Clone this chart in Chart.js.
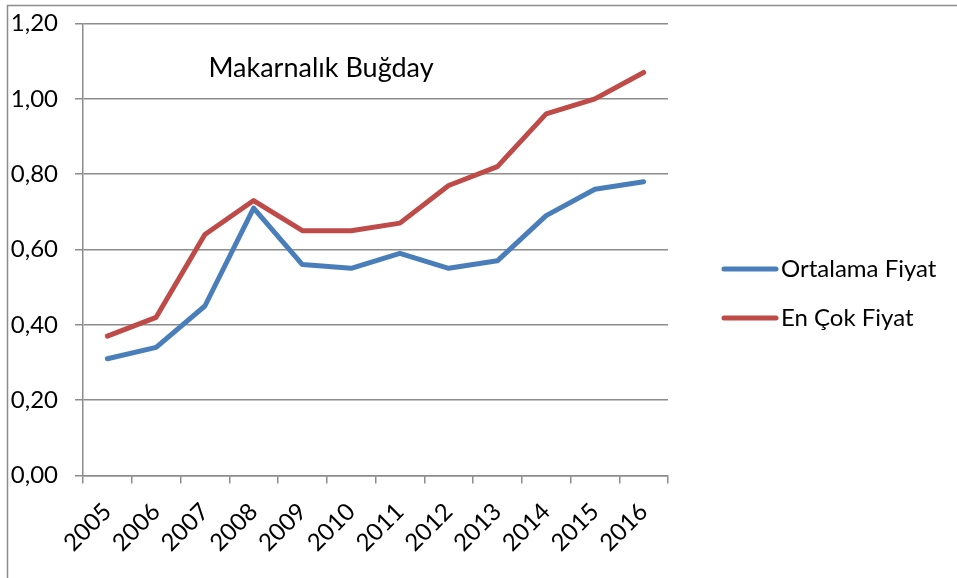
<!DOCTYPE html>
<html>
<head>
<meta charset="utf-8">
<script src="https://cdn.jsdelivr.net/npm/chart.js@4/dist/chart.umd.min.js"></script>
<style>
  html, body { margin: 0; padding: 0; background: #fff; }
  #wrap { width: 957px; height: 578px; position: relative; }
</style>
</head>
<body>
<div id="wrap"><canvas id="c" width="957" height="578"></canvas></div>
<script>
// Yıllar ve fiyat serileri
const years = ['2005','2006','2007','2008','2009','2010','2011','2012','2013','2014','2015','2016'];
const ortalamaFiyat = [0.31, 0.34, 0.45, 0.71, 0.56, 0.55, 0.59, 0.55, 0.57, 0.69, 0.76, 0.78];
const enCokFiyat   = [0.37, 0.42, 0.64, 0.73, 0.65, 0.65, 0.67, 0.77, 0.82, 0.96, 1.00, 1.07];
const seriesNames  = ['Ortalama Fiyat', 'En Çok Fiyat'];
const chartTitle   = 'Makarnalık Buğday';

const FONT = 'Lato, "Open Sans", sans-serif';
const GRID = '#8c8c8c';

// Dış çerçeve (üst ve sol kenar)
const framePlugin = {
  id: 'frame',
  beforeDraw(chart) {
    const ctx = chart.ctx;
    ctx.save();
    ctx.strokeStyle = '#8c8c8c';
    ctx.lineWidth = 1.5;
    ctx.beginPath();
    ctx.moveTo(957, 5.5);
    ctx.lineTo(7.5, 5.5);
    ctx.lineTo(7.5, 578);
    ctx.stroke();
    ctx.restore();
  }
};

// Grafik içi başlık ve sağdaki açıklama
const annotatePlugin = {
  id: 'annotate',
  afterDraw(chart) {
    const ctx = chart.ctx;
    ctx.save();
    ctx.fillStyle = '#000';
    ctx.font = '27px ' + FONT;
    ctx.textAlign = 'center';
    ctx.textBaseline = 'middle';
    ctx.fillText(chartTitle, 321, 68);

    ctx.font = '24px ' + FONT;
    ctx.textAlign = 'left';
    chart.data.datasets.forEach((ds, i) => {
      const y = 269 + i * 49;
      ctx.strokeStyle = ds.borderColor;
      ctx.lineWidth = 5;
      ctx.lineCap = 'round';
      ctx.beginPath();
      ctx.moveTo(724, y);
      ctx.lineTo(776, y);
      ctx.stroke();
      ctx.fillText(ds.label, 781, y);
    });
    ctx.restore();
  }
};

new Chart(document.getElementById('c'), {
  type: 'line',
  data: {
    labels: years,
    datasets: [
      { label: seriesNames[0], data: ortalamaFiyat, borderColor: '#4a7ebb', backgroundColor: '#4a7ebb' },
      { label: seriesNames[1], data: enCokFiyat, borderColor: '#be4b48', backgroundColor: '#be4b48' }
    ]
  },
  options: {
    responsive: false,
    animation: false,
    layout: { autoPadding: false, padding: { left: 8, top: 23.5, right: 289, bottom: 0 } },
    elements: {
      line: { tension: 0, borderWidth: 5, borderCapStyle: 'round', borderJoinStyle: 'round' },
      point: { radius: 0, hoverRadius: 0 }
    },
    plugins: { legend: { display: false }, tooltip: { enabled: false } },
    scales: {
      x: {
        offset: true,
        grid: { offset: true, drawOnChartArea: false, color: GRID, lineWidth: 1.5, tickLength: 8 },
        border: { color: GRID, width: 1.5 },
        ticks: { color: '#000', font: { family: FONT, size: 24 }, minRotation: 45, maxRotation: 45, padding: 14 },
        afterFit(s) { s.height = 578 - 475.5; s.paddingLeft = 0; s.paddingRight = 0; }
      },
      y: {
        min: 0, max: 1.2,
        ticks: {
          stepSize: 0.2, color: '#000', font: { family: FONT, size: 24 }, padding: 17,
          callback: v => v.toFixed(2).replace('.', ',')
        },
        grid: { color: GRID, lineWidth: 1.5, tickLength: 8 },
        border: { color: GRID, width: 1.5 },
        afterFit(s) { s.width = 83 - 8; s.paddingTop = 0; s.paddingBottom = 0; }
      }
    }
  },
  plugins: [framePlugin, annotatePlugin]
});
</script>
</body>
</html>
